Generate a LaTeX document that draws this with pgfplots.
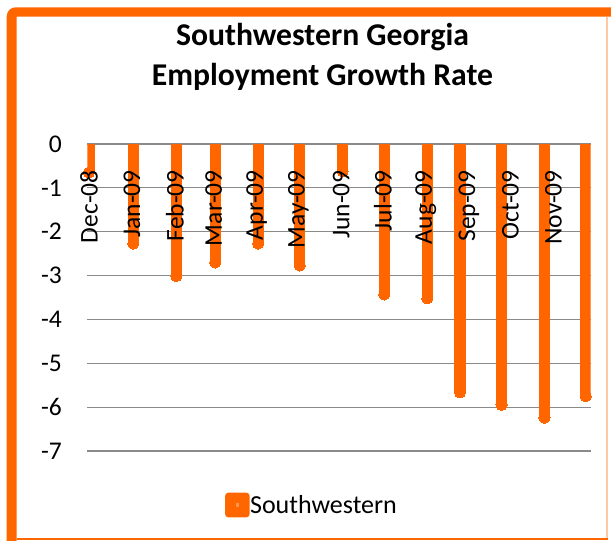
\documentclass[border=0pt]{standalone}
\usepackage{fontspec}
\setmainfont{Carlito}
\usepackage{pgfplots}
\pgfplotsset{compat=1.18}
\definecolor{barC}{RGB}{255,102,0}
\definecolor{barL}{RGB}{255,150,80}
\definecolor{gridC}{RGB}{138,138,138}
\definecolor{peach}{RGB}{255,200,165}
\pgfplotsset{
  myframe/.style={
    at={(87.3pt,90pt)}, anchor=south west,
    scale only axis, width=503.3pt, height=307pt,
    xmin=-1.2, xmax=361.8, ymin=-7, ymax=0,
    axis line style={draw=none},
    tick style={draw=none},
  },
}
\begin{document}
\begin{tikzpicture}
\useasboundingbox (0pt,0pt) rectangle (611pt,541pt);
% frame
\fill[barC] (6.7pt,0pt) {[rounded corners=9pt] -- (6.7pt,533.7pt) -- (620pt,533.7pt)} -- (620pt,524.3pt) -- (16.7pt,524.3pt) -- (16.7pt,0pt) -- cycle;
\draw[peach, line width=1.2pt] (607pt,524.3pt) -- (607pt,2pt);
\draw[barC, line width=1.5pt] (16.7pt,2pt) -- (607.6pt,2pt);
% title
\node[anchor=base, inner sep=0pt, font=\fontsize{31.7}{38}\selectfont\bfseries] at (322.5pt,495.3pt) {Southwestern Georgia};
\node[anchor=base, inner sep=0pt, font=\fontsize{31.7}{38}\selectfont\bfseries] at (322.5pt,455.3pt) {Employment Growth Rate};
\begin{axis}[
  myframe,
  ymajorgrids,
  grid style={gridC, line width=1.2pt},
  ytick={-7,-6,-5,-4,-3,-2,-1,0},
  /pgf/number format/assume math mode=true,
  yticklabel style={font=\fontsize{25.5}{30}\selectfont, inner sep=0pt, xshift=-25.3pt},
  xtick=\empty,
  legend style={at={(axis description cs:0.2736,-0.1759)}, anchor=west, draw=none, fill=none,
    inner sep=0pt, font=\fontsize{26}{30}\selectfont, nodes={inner sep=0.6pt}},
  legend image code/.code={
    \fill[barC, draw=none, line width=0pt, rounded corners=3pt] (0pt,-12.3pt) rectangle (24.3pt,12.3pt);
    \fill[barL, draw=none, line width=0pt] (10.7pt,-1.6pt) rectangle (13.6pt,1.6pt);
  },
]
\addplot[ycomb, color=barC, line width=11.2pt, mark=*, mark size=5.6pt,
  mark options={fill=barC, draw=barC, line width=0pt}] coordinates {
  (0,-0.65) (32,-2.27) (63,-3.01) (91,-2.70) (122,-2.27) (152,-2.77)
  (183,-0.62) (213,-3.43) (244,-3.52) (267.6,-5.66) (297.6,-5.95)
  (328.5,-6.24) (358.3,-5.75)
};
\addlegendentry{Southwestern}
\end{axis}
% category labels drawn on top of the bars
\begin{axis}[
  myframe,
  ytick=\empty,
  xtick={0,31,62,90,121,151,182,212,243,274,304,335},
  xticklabels={Dec-08,Jan-09,Feb-09,Mar-09,Apr-09,May-09,Jun-09,Jul-09,Aug-09,Sep-09,Oct-09,Nov-09},
  xticklabel pos=upper,
  xticklabel style={yshift=-26pt, rotate=90, anchor=east, inner sep=0pt, font=\fontsize{25.5}{30}\selectfont},
]
\end{axis}
\end{tikzpicture}
\end{document}
